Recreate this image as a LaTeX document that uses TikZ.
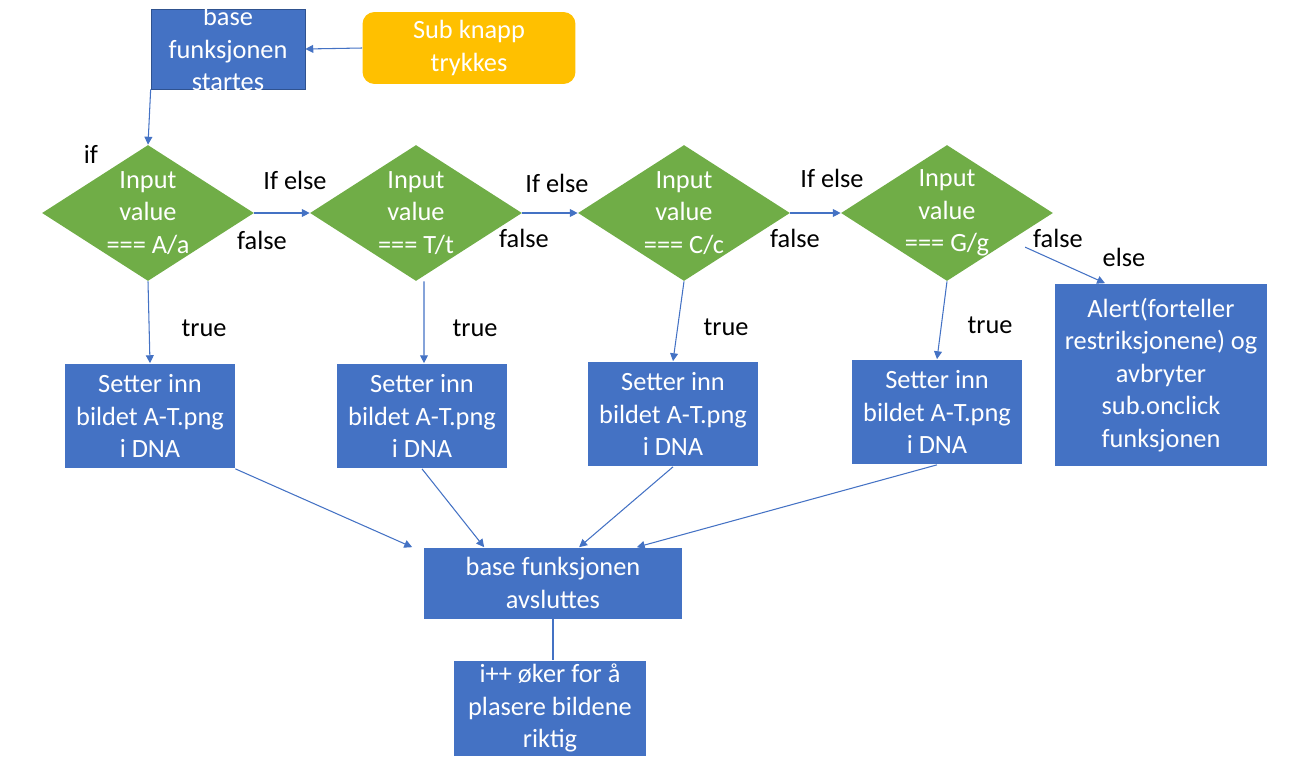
\documentclass[tikz,border=0pt]{standalone}
\usepackage{fontspec}
\setmainfont{Carlito}
\usetikzlibrary{shapes.geometric,arrows.meta}
\definecolor{boxblue}{HTML}{4472C4}
\definecolor{darkblue}{HTML}{2F528F}
\definecolor{leafgreen}{HTML}{70AD47}
\definecolor{gold}{HTML}{FFC000}
\tikzset{
	box/.style={fill=boxblue, text=white, align=center, inner sep=0pt},
	decision/.style={diamond, fill=leafgreen, minimum width=4.24cm, minimum height=2.72cm, inner sep=0pt},
	dtext/.style={text=white, align=center},
	connector/.style={draw=boxblue, line width=0.6pt, -{Triangle[length=4.5pt,width=4.5pt]}},
	lbl/.style={text=black},
}
\begin{document}
\begin{tikzpicture}[x=0.02cm, y=-0.02cm, font=\fontsize{15}{18.5}\selectfont]
	\useasboundingbox (0,0) rectangle (1289,768);
	% start
	\node[box, draw=darkblue, minimum width=3.08cm, minimum height=1.6cm,
		label={[dtext]center:{base\\funksjonen\\startes}}] (start) at (228,49) {};
	\node[box, fill=gold, rounded corners=0.24cm, minimum width=4.26cm, minimum height=1.44cm] (sub) at (469,48) {Sub knapp\\trykkes};
	% tests
	\node[decision, label={[dtext]center:{Input\\value\\=== A/a}}] (d1) at (148,213) {};
	\node[decision, label={[dtext]center:{Input\\value\\=== T/t}}] (d2) at (416,213) {};
	\node[decision, label={[dtext]center:{Input\\value\\=== C/c}}] (d3) at (684,213) {};
	\node[decision, label={[dtext]center:{Input\\value\\=== G/g}}] (d4) at (947,213) {};
	% results
	\node[box, minimum width=3.4cm, minimum height=2.1cm] (b1) at (150,416) {Setter inn\\bildet A-T.png\\i DNA};
	\node[box, minimum width=3.4cm, minimum height=2.1cm] (b2) at (422,416) {Setter inn\\bildet A-T.png\\i DNA};
	\node[box, minimum width=3.4cm, minimum height=2.1cm] (b3) at (673,414) {Setter inn\\bildet A-T.png\\i DNA};
	\node[box, minimum width=3.4cm, minimum height=2.1cm] (b4) at (937,412) {Setter inn\\bildet A-T.png\\i DNA};
	\node[box, minimum width=4.24cm, minimum height=3.66cm] (alert) at (1161,375) {Alert(forteller\\restriksjonene) og\\avbryter\\sub.onclick\\funksjonen};
	\node[box, minimum width=5.18cm, minimum height=1.42cm] (end) at (553,583) {base funksjonen\\avsluttes};
	\node[box, minimum width=3.84cm, minimum height=1.9cm] (next) at (550,708) {i++ øker for å\\plasere bildene\\riktig};
	% labels
	\node[lbl] (if) at (91,154) {if};
	\node[lbl] (ie1) at (295,180) {If else};
	\node[lbl] (ie2) at (557,183) {If else};
	\node[lbl] (ie3) at (832,178) {If else};
	\node[lbl] (f1) at (262,240) {false};
	\node[lbl] (f2) at (524,238) {false};
	\node[lbl] (f3) at (795,238) {false};
	\node[lbl] (f4) at (1058,238) {false};
	\node[lbl] (else) at (1124,257) {else};
	\node[lbl] (t1) at (204,328) {true};
	\node[lbl] (t2) at (475,328) {true};
	\node[lbl] (t3) at (726,327) {true};
	\node[lbl] (t4) at (990,325) {true};
	% connectors
	\draw[connector] (sub.west) -- (start.east);
	\draw[connector] (start.south west) -- (d1.north);
	\draw[connector] (d1.east) -- (d2.west);
	\draw[connector] (d2.east) -- (d3.west);
	\draw[connector] (d3.east) -- (d4.west);
	\draw[connector] ([xshift=0.5cm]d4.south east) -- ([xshift=-1.12cm]alert.north);
	\draw[connector] (d1.south) -- (b1.north);
	\draw[connector] ([xshift=0.16cm]d2.south) -- ([xshift=0.04cm]b2.north);
	\draw[connector] (d3.south) -- (b3.north);
	\draw[connector] (d4.south) -- (b4.north);
	\draw[connector] (b1.south east) -- ([xshift=-0.22cm]end.north west);
	\draw[connector] (b2.south) -- ([xshift=1.22cm]end.north west);
	\draw[connector] (b3.south) -- ([xshift=3.12cm]end.north west);
	\draw[connector] (b4.south) -- ([xshift=-0.92cm]end.north east);
	\draw[draw=boxblue, line width=0.6pt] (end.south) -- (end.south |- next.north);
\end{tikzpicture}
\end{document}
